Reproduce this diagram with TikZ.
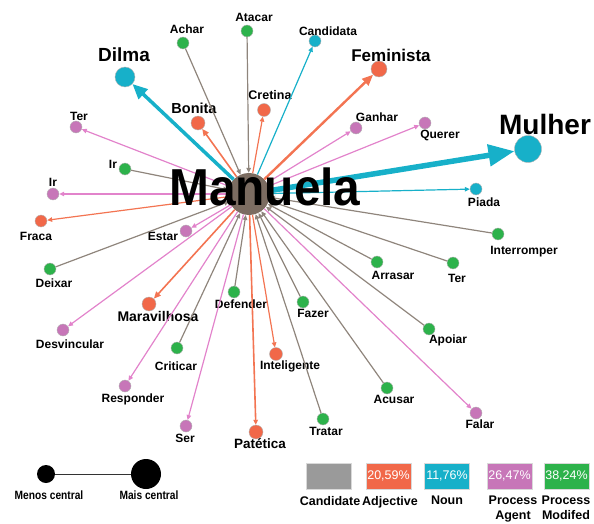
\documentclass[tikz,border=0pt]{standalone}
\usepackage{fontspec}
\setmainfont{Liberation Sans}
\usetikzlibrary{arrows.meta}
\definecolor{pgreen}{HTML}{2DB24B}
\definecolor{porange}{HTML}{F16849}
\definecolor{pcyan}{HTML}{17B0C9}
\definecolor{ppink}{HTML}{C776B8}
\definecolor{egray}{HTML}{8F857C}
\definecolor{eorange}{HTML}{F37452}
\definecolor{epink}{HTML}{E283CB}
\definecolor{cbrown}{HTML}{7B6C61}
\definecolor{boxgray}{HTML}{9A9A9A}

\begin{document}
\begin{tikzpicture}[x=1pt, y=-1pt,
	dot/.style={circle, draw=black!30, line width=0.4pt, inner sep=0, minimum size=12pt},
	gdot/.style={dot, fill=pgreen},
	odot/.style={dot, fill=porange},
	cdot/.style={dot, fill=pcyan},
	pdot/.style={dot, fill=ppink},
	lbl/.style={inner sep=0, font=\bfseries\fontsize{12}{12}\selectfont},
	modedge/.style={draw=egray, line width=1.2pt, -{Triangle[length=5pt,width=4.5pt]}},
	adjedge/.style={draw=eorange, line width=1.2pt, -{Triangle[length=5pt,width=4.5pt]}},
	nounedge/.style={draw=pcyan, line width=1.2pt, -{Triangle[length=5pt,width=4.5pt]}},
	agentedge/.style={draw=epink, line width=1.2pt, -{Triangle[length=5pt,width=4.5pt]}},
	legbox/.style={minimum width=45pt, minimum height=26pt, inner sep=0, draw=black!15, text=white, font=\fontsize{12.5}{12.5}\selectfont},
	leglbl/.style={inner sep=0, align=center, font=\bfseries\fontsize{12.5}{15}\selectfont}]
				\useasboundingbox (0,0) rectangle (594,524);
				\node[circle, fill=cbrown, inner sep=0, minimum size=42pt] (man) at (249,194) {};
				
				\node[gdot] (achar) at (183,43) {};
				\node[gdot] (atacar) at (247,31) {};
				\node[gdot] (irA) at (125,169) {};
				\node[gdot] (interromper) at (498,234) {};
				\node[gdot] (deixar) at (50,269) {};
				\node[gdot] (arrasar) at (377,262) {};
				\node[gdot] (terB) at (453,263) {};
				\node[gdot] (defender) at (234,292) {};
				\node[gdot] (fazer) at (303,302) {};
				\node[gdot] (apoiar) at (429,329) {};
				\node[gdot] (criticar) at (177,348) {};
				\node[gdot] (acusar) at (387,388) {};
				\node[gdot] (tratar) at (323,419) {};
				
				\node[odot, minimum size=16pt] (feminista) at (379,69) {};
				\node[odot, minimum size=14pt] (bonita) at (198,123) {};
				\node[odot, minimum size=13pt] (cretina) at (264,110) {};
				\node[odot] (fraca) at (41,221) {};
				\node[odot, minimum size=14pt] (maravilhosa) at (149,304) {};
				\node[odot, minimum size=13pt] (inteligente) at (276,354) {};
				\node[odot, minimum size=14pt] (patetica) at (256,432) {};
				
				\node[cdot, minimum size=20pt] (dilma) at (125,77) {};
				\node[cdot] (candidata) at (315,41) {};
				\node[cdot, minimum size=27pt] (mulher) at (528,149) {};
				\node[cdot] (piada) at (476,189) {};
				
				\node[pdot] (terA) at (76,127) {};
				\node[pdot] (ganhar) at (356,128) {};
				\node[pdot] (querer) at (425,123) {};
				\node[pdot] (irB) at (53,194) {};
				\node[pdot] (estar) at (186,231) {};
				\node[pdot] (desvincular) at (63,330) {};
				\node[pdot] (responder) at (125,386) {};
				\node[pdot] (ser) at (186,426) {};
				\node[pdot] (falar) at (476,413) {};
				
				\node[lbl] (achar-l) at (187,29) {Achar};
				\node[lbl] (atacar-l) at (254,17) {Atacar};
				\node[lbl] (candidata-l) at (328,31) {Candidata};
				\node[lbl, font=\bfseries\fontsize{19}{19}\selectfont] (dilma-l) at (124,55) {Dilma};
				\node[lbl, font=\bfseries\fontsize{17}{17}\selectfont] (feminista-l) at (391,55) {Feminista};
				\node[lbl, font=\bfseries\fontsize{14.5}{14.5}\selectfont] (bonita-l) at (194,108) {Bonita};
				\node[lbl, font=\bfseries\fontsize{12.5}{12.5}\selectfont] (cretina-l) at (270,95) {Cretina};
				\node[lbl] (terA-l) at (79,116) {Ter};
				\node[lbl] (ganhar-l) at (377,117) {Ganhar};
				\node[lbl] (querer-l) at (440,135) {Querer};
				\node[lbl, font=\bfseries\fontsize{28}{28}\selectfont] (mulher-l) at (545,124) {Mulher};
				\node[lbl] (irA-l) at (113,164) {Ir};
				\node[lbl] (irB-l) at (53,182) {Ir};
				\node[lbl] (piada-l) at (484,202) {Piada};
				\node[lbl] (fraca-l) at (36,236) {Fraca};
				\node[lbl] (estar-l) at (163,236) {Estar};
				\node[lbl] (interromper-l) at (524,252) {Interromper};
				\node[lbl] (deixar-l) at (54,283) {Deixar};
				\node[lbl] (arrasar-l) at (393,275) {Arrasar};
				\node[lbl] (terB-l) at (457,278) {Ter};
				\node[lbl] (defender-l) at (241,304) {Defender};
				\node[lbl] (fazer-l) at (313,313) {Fazer};
				\node[lbl, font=\bfseries\fontsize{14}{14}\selectfont] (maravilhosa-l) at (158,316) {Maravilhosa};
				\node[lbl] (apoiar-l) at (448,340) {Apoiar};
				\node[lbl] (desvincular-l) at (70,344) {Desvincular};
				\node[lbl] (criticar-l) at (176,366) {Criticar};
				\node[lbl] (inteligente-l) at (290,366) {Inteligente};
				\node[lbl] (responder-l) at (133,399) {Responder};
				\node[lbl] (acusar-l) at (394,399) {Acusar};
				\node[lbl] (ser-l) at (185,438) {Ser};
				\node[lbl] (falar-l) at (480,424) {Falar};
				\node[lbl, font=\bfseries\fontsize{13.5}{13.5}\selectfont] (patetica-l) at (260,444) {Patética};
				\node[lbl] (tratar-l) at (326,431) {Tratar};
				
				\draw[modedge] (achar) -- (man);
				\draw[modedge] (atacar) -- (man);
				\draw[modedge] (irA) -- (man);
				\draw[modedge] (interromper) -- (man);
				\draw[modedge] (deixar) -- (man);
				\draw[modedge] (arrasar) -- (man);
				\draw[modedge] (terB) -- (man);
				\draw[modedge] (defender) -- (man);
				\draw[modedge] (fazer) -- (man);
				\draw[modedge] (apoiar) -- (man);
				\draw[modedge] (criticar) -- (man);
				\draw[modedge] (acusar) -- (man);
				\draw[modedge] (tratar) -- (man);
				
				\draw[adjedge, line width=2.4pt, -{Triangle[length=11pt,width=9pt]}] (man) -- (feminista);
				\draw[adjedge, line width=1.6pt, -{Triangle[length=7pt,width=6pt]}] (man) -- (bonita);
				\draw[adjedge] (man) -- (cretina);
				\draw[adjedge] (man) -- (fraca);
				\draw[adjedge, line width=1.6pt, -{Triangle[length=7pt,width=6pt]}] (man) -- (maravilhosa);
				\draw[adjedge] (man) -- (inteligente);
				\draw[adjedge, line width=1.6pt] (man) -- (patetica);
				
				\draw[nounedge, line width=3.5pt, -{Triangle[length=15pt,width=13pt]}] (man) -- (dilma);
				\draw[nounedge] (man) -- (candidata);
				\draw[nounedge, line width=5.5pt, -{Triangle[length=26pt,width=21pt]}] (man) -- (mulher);
				\draw[nounedge] (man) -- (piada);
				
				\draw[agentedge] (man) -- (terA);
				\draw[agentedge] (man) -- (ganhar);
				\draw[agentedge] (man) -- (querer);
				\draw[agentedge] (man) -- (irB);
				\draw[agentedge] (man) -- (estar);
				\draw[agentedge] (man) -- (desvincular);
				\draw[agentedge] (man) -- (responder);
				\draw[agentedge] (man) -- (ser);
				\draw[agentedge] (man) -- (falar);
				
				\node[inner sep=0, anchor=base west, xscale=0.92, font=\bfseries\fontsize{52}{52}\selectfont] (manuela) at (169,205) {Manuela};
				
				\node[circle, fill=black, inner sep=0, minimum size=18pt] (menos) at (46,474) {};
				\node[circle, fill=black, inner sep=0, minimum size=30pt] (mais) at (146,474) {};
				\draw[black!80, line width=1pt] (menos) -- (mais);
				\node[lbl, xscale=0.85, font=\bfseries\fontsize{12}{12}\selectfont] (menos-l) at (49,495) {Menos central};
				\node[lbl, xscale=0.85, font=\bfseries\fontsize{12}{12}\selectfont] (mais-l) at (149,495) {Mais central};
				
				\node[legbox, fill=boxgray] (bcand) at (328.5,476) {};
				\node[legbox, fill=porange] (badj) at (388.5,476) {20,59\%};
				\node[legbox, fill=pcyan] (bnoun) at (447,476) {11,76\%};
				\node[legbox, fill=ppink] (bagent) at (509.5,476) {26,47\%};
				\node[legbox, fill=pgreen] (bmod) at (566.5,476) {38,24\%};
				\node[leglbl, anchor=north] (bcand-l) at (330,496) {Candidate};
				\node[leglbl, anchor=north] (badj-l) at (390,496) {Adjective};
				\node[leglbl, anchor=north] (bnoun-l) at (447,496) {Noun};
				\node[leglbl, anchor=north] (bagent-l) at (513,496) {Process\\Agent};
				\node[leglbl, anchor=north] (bmod-l) at (566,496) {Process\\Modifed};
			\end{tikzpicture}
\end{document}
